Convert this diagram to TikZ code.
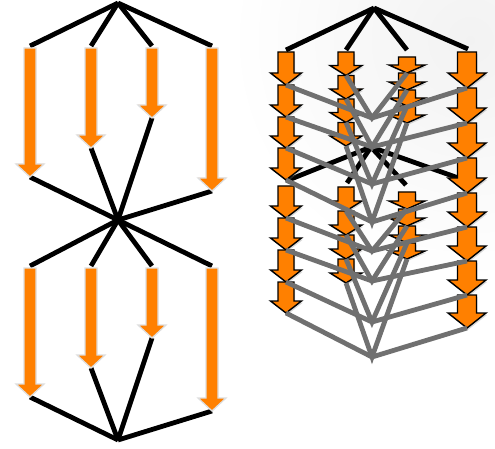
\documentclass[tikz,border=0pt]{standalone}
\usetikzlibrary{shadows}
\definecolor{org}{RGB}{255,128,0}
\definecolor{gry}{RGB}{112,112,112}
\newcommand\blockarr[7]{% style, x, ytop, ytip, s, H, h
  \path[#1] ({#2-#5},#3) -- ({#2+#5},#3) -- ({#2+#5},{#4-#7}) -- ({#2+#6},{#4-#7})
    -- (#2,#4) -- ({#2-#6},{#4-#7}) -- ({#2-#5},{#4-#7}) -- cycle;}
\begin{document}
\begin{tikzpicture}[x=1pt,y=-1pt,
  blk/.style={line width=4.8pt,black},
  gline/.style={line width=4.8pt,gry},
  larr/.style={fill=org,draw=black!13,line width=1.3pt},
  rarr/.style={fill=org,draw=black,line width=1.4pt,line join=miter,
    drop shadow={opacity=0.3,shadow xshift=1.2pt,shadow yshift=-1.8pt}}]
\useasboundingbox (0,0) rectangle (495,449);
\fill[white] (0,0) rectangle (495,449);
\begin{scope}
\clip (0,0) rectangle (495,449);
\shade[inner color=black!5,outer color=white] (470,40) circle (240);
\end{scope}

% ---------------- left diagram ----------------
\coordinate (LA0) at (118,3);
\coordinate (LA1) at (118,220);
\coordinate (LA2) at (118,440);
\foreach \o/\a/\b in {0/LA0/LA1,220/LA1/LA2}{
  \coordinate (lt1) at (30,46+\o);  \coordinate (lt2) at (91,46+\o);
  \coordinate (lt3) at (152,46+\o); \coordinate (lt4) at (212,46+\o);
  \coordinate (lb1) at (30,177+\o); \coordinate (lb2) at (91,148+\o);
  \coordinate (lb3) at (152,118+\o); \coordinate (lb4) at (212,191+\o);
  \foreach \i in {1,...,4}{
    \draw[blk] (\a) -- (lt\i);
    \draw[blk] (lb\i) -- (\b);
  }
  \blockarr{larr}{30}{48+\o}{177+\o}{6}{14}{13}
  \blockarr{larr}{91}{48+\o}{148+\o}{6}{14}{13}
  \blockarr{larr}{152}{48+\o}{118+\o}{6}{14}{13}
  \blockarr{larr}{212}{48+\o}{191+\o}{6}{14}{13}
}

% ---------------- right diagram ----------------
\coordinate (T) at (374,8);
\coordinate (t1) at (286,50); \coordinate (t2) at (346,50);
\coordinate (t3) at (407,50); \coordinate (t4) at (468,49);
\coordinate (M) at (371,147);
\coordinate (m1) at (286,181); \coordinate (m2) at (347,183);
\coordinate (m3) at (406,185); \coordinate (m4) at (464,180);
\foreach \i in {1,...,4}{
  \draw[blk] (T) -- (t\i);
  \draw[blk] (M) -- (m\i);
}

% arrows: column 1
\foreach \a/\b in {52/85,85/117,117/148,148/180,186/218,218/250,250/282,282/313}{
  \blockarr{rarr}{286}{\a}{\b}{8}{15.5}{12}}
% column 2
\foreach \a/\b in {52/75.5,75.5/99,99/122.5,122.5/146,187/211,211/235,235/259,259/283}{
  \blockarr{rarr}{346}{\a}{\b}{8}{16}{10}}
% column 3
\foreach \a/\b in {57/73,73/90,90/106,106/123,192/209,209/226,226/243,243/259}{
  \blockarr{rarr}{407}{\a}{\b}{8.5}{18}{8}}
% column 4
\foreach \a/\b in {52/88,88/123,123/158,158/193,193/227,227/261,261/295,295/328}{
  \blockarr{rarr}{467}{\a}{\b}{9.5}{19}{15}}

% grey joins
\foreach \k/\p/\q/\r/\s/\j in {1/85/75.5/73/88/118, 2/117/99/90/123/147,
    3/148/122.5/106/158/184, 4/180/146/123/193/222, 5/218/211/209/227/251,
    6/250/235/226/261/281, 7/282/259/243/295/322, 8/313/283/259/328/357}{
  \coordinate (J\k) at (372,\j);
  \coordinate (g1\k) at (286,\p); \coordinate (g2\k) at (346,\q);
  \coordinate (g3\k) at (407,\r); \coordinate (g4\k) at (467,\s);
  \draw[gline] (g1\k) -- (J\k) -- (g4\k);
  \draw[gline] (g2\k) -- (J\k) -- (g3\k);
}
\end{tikzpicture}
\end{document}
